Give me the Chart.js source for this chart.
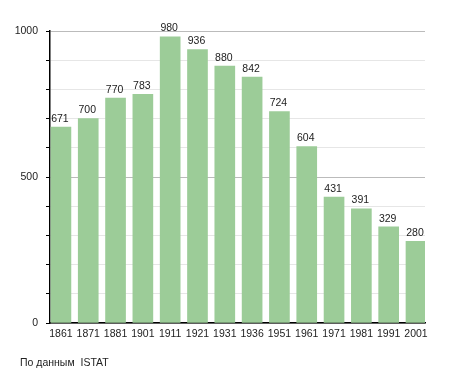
<!DOCTYPE html>
<html>
<head>
<meta charset="utf-8">
<script src="https://cdn.jsdelivr.net/npm/chart.js@4/dist/chart.umd.min.js"></script>
<style>
  body { margin: 0; background: #fff; }
  #wrap { position: relative; width: 455px; height: 373px; }
  #src { position: absolute; left: 20px; top: 356px; font: 10.5px "Liberation Sans", Arial, sans-serif; color: #222; white-space: pre; }
</style>
</head>
<body>
<div id="wrap">
  <canvas id="chart" width="455" height="373"></canvas>
  <div id="src">По данным  ISTAT</div>
</div>
<script>
const years = ["1861", "1871", "1881", "1901", "1911", "1921", "1931", "1936", "1951", "1961", "1971", "1981", "1991", "2001"];
const population = [671, 700, 770, 783, 980, 936, 880, 842, 724, 604, 431, 391, 329, 280];
const yLabels = [0, 500, 1000];

const FONT = "'Liberation Sans', Arial, sans-serif";

// values above bars
const valueLabels = {
  id: "valueLabels",
  afterDatasetsDraw(chart) {
    const ctx = chart.ctx;
    const meta = chart.getDatasetMeta(0);
    ctx.save();
    ctx.font = "10.5px " + FONT;
    ctx.fillStyle = "#222";
    ctx.textAlign = "center";
    ctx.textBaseline = "bottom";
    meta.data.forEach((bar, i) => {
      ctx.fillText(String(population[i]), bar.x - 1, bar.y - 3);
    });
    ctx.restore();
  }
};

new Chart(document.getElementById("chart"), {
  type: "bar",
  data: {
    datasets: [{
      data: population.map((v, i) => ({ x: i, y: v })),
      backgroundColor: "#9ccc98",
      borderWidth: 0,
      barThickness: 20
    }]
  },
  options: {
    responsive: false,
    animation: false,
    layout: { padding: { top: 31, right: 30, left: 0, bottom: 0 } },
    plugins: {
      legend: { display: false },
      tooltip: { enabled: false }
    },
    scales: {
      x: {
        type: "linear",
        min: -0.4,
        max: 13.33,
        offset: false,
        grid: { display: false, drawTicks: false },
        border: { color: "#000", width: 1.5 },
        ticks: {
          font: { family: FONT, size: 10.5 },
          color: "#222",
          padding: 5,
          maxRotation: 0,
          autoSkip: false,
          callback: v => years[v] ?? ""
        },
        afterBuildTicks: s => { s.ticks = years.map((_, i) => ({ value: i })); },
        afterFit: s => { s.height = 50; }
      },
      y: {
        min: 0,
        max: 1000,
        grid: {
          color: c => (c.tick && c.tick.value % 500 === 0) ? "#bbbbbb" : "#e6e6e6",
          tickColor: "#000",
          tickLength: 4
        },
        border: { color: "#000", width: 1.5 },
        ticks: {
          stepSize: 100,
          font: { family: FONT, size: 10.5 },
          color: "#222",
          padding: 8,
          callback: v => yLabels.includes(v) ? String(v) : ""
        },
        afterFit: s => { s.width = 50; }
      }
    }
  },
  plugins: [valueLabels]
});
</script>
</body>
</html>
